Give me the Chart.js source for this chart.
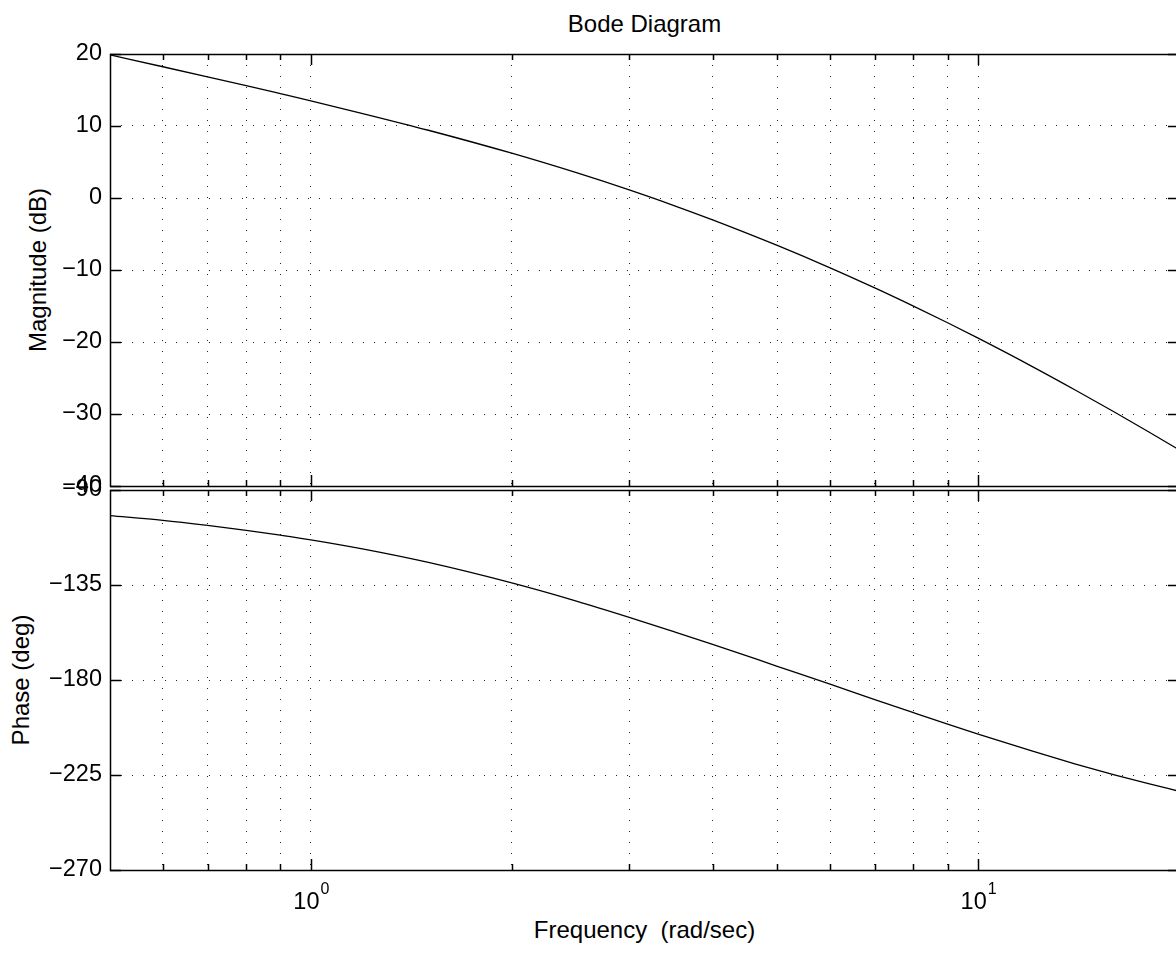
<!DOCTYPE html>
<html>
<head>
<meta charset="utf-8">
<script src="https://cdn.jsdelivr.net/npm/chart.js@4/dist/chart.umd.min.js"></script>
<style>
  html, body { margin: 0; padding: 0; background: #fff; overflow: hidden; }
  body { width: 1176px; height: 956px; position: relative; font-family: "Liberation Sans", Arial, sans-serif; }
  canvas { position: absolute; left: 0; }
  .lbl { position: absolute; font-size: 24px; line-height: 28px; color: #000; white-space: pre; }
</style>
</head>
<body>
<div class="lbl" style="left:0; width:1289px; top:10px; text-align:center;">Bode Diagram</div>
<div class="lbl" style="left:38px; top:270px; transform:translate(-50%,-50%) rotate(-90deg);">Magnitude (dB)</div>
<div class="lbl" style="left:21px; top:680px; transform:translate(-50%,-50%) rotate(-90deg);">Phase (deg)</div>
<div class="lbl" style="left:0; width:1289px; top:916px; text-align:center;">Frequency  (rad/sec)</div>
<canvas id="mag" width="1200" height="520" style="top:0"></canvas>
<canvas id="phase" width="1200" height="516" style="top:440px"></canvas>
<script>
// frequencies (rad/sec) and values
const freq = [0.5, 0.6, 0.7, 0.8, 0.9, 1, 1.2, 1.5, 2, 2.5, 3, 3.5, 4, 5, 6, 7, 8, 9, 10, 12, 14, 16, 18, 20];
const magDb = [19.87, 18.23, 16.83, 15.60, 14.49, 13.49, 11.70, 9.41, 6.22, 3.51, 1.12, -1.05, -3.04, -6.59, -9.70, -12.49, -15.02, -17.33, -19.47, -23.31, -26.70, -29.73, -32.46, -34.96];
const phaseDeg = [-102.1, -104.4, -106.8, -109.1, -111.4, -113.6, -118.0, -124.3, -134.0, -142.6, -150.3, -157.1, -163.1, -173.5, -182.0, -189.3, -195.5, -200.9, -205.6, -213.5, -219.8, -224.9, -229.1, -232.7];
const freqTicks = [0.6, 0.7, 0.8, 0.9, 1, 2, 3, 4, 5, 6, 7, 8, 9, 10, 20];
const decadeTicks = [1, 10];

const FONT = "'Liberation Sans', Arial, sans-serif";
const TICK_SIZE = 23.5;
const minus = v => (v < 0 ? '\u2212' + Math.abs(v) : String(v));

// matlab style box, inward ticks and 10^n labels
const matAxes = {
  id: 'matAxes',
  afterDraw(chart, args, opts) {
    const ctx = chart.ctx;
    const a = chart.chartArea;
    const xs = chart.scales.x, ys = chart.scales.y;
    ctx.save();
    ctx.strokeStyle = '#000';
    ctx.lineWidth = 1.5;
    ctx.beginPath();
    freqTicks.forEach(v => {
      const px = Math.round(xs.getPixelForValue(v)) + 0.5;
      const len = decadeTicks.includes(v) ? 11 : 6;
      ctx.moveTo(px, a.bottom); ctx.lineTo(px, a.bottom - len);
      ctx.moveTo(px, a.top); ctx.lineTo(px, a.top + len);
    });
    ys.ticks.forEach(t => {
      const py = Math.round(ys.getPixelForValue(t.value)) + 0.5;
      ctx.moveTo(a.left, py); ctx.lineTo(a.left + 11, py);
      ctx.moveTo(a.right, py); ctx.lineTo(a.right - 11, py);
    });
    ctx.stroke();
    ctx.strokeRect(Math.round(a.left) + 0.5, Math.round(a.top) + 0.5, a.right - a.left, a.bottom - a.top);
    if (opts.xLabels) {
      ctx.fillStyle = '#000';
      ctx.textBaseline = 'alphabetic';
      ctx.textAlign = 'left';
      decadeTicks.forEach(v => {
        const px = xs.getPixelForValue(v);
        const exp = String(Math.round(Math.log10(v)));
        ctx.font = TICK_SIZE + 'px ' + FONT;
        const w1 = ctx.measureText('10').width;
        ctx.font = '16px ' + FONT;
        const w2 = ctx.measureText(exp).width;
        const x0 = px - (w1 + w2) / 2;
        ctx.font = TICK_SIZE + 'px ' + FONT;
        ctx.fillText('10', x0, a.bottom + 39);
        ctx.font = '16px ' + FONT;
        ctx.fillText(exp, x0 + w1 + 1, a.bottom + 24);
      });
    }
    ctx.restore();
  }
};

function xScale() {
  return {
    type: 'logarithmic',
    min: 0.5,
    max: 20,
    afterBuildTicks: s => { s.ticks = freqTicks.map(v => ({ value: v })); },
    afterFit: s => { s.height = 0; },
    ticks: { display: false },
    grid: { color: '#222', lineWidth: 1, drawTicks: false },
    border: { display: false, dash: [1, 10] }
  };
}

function yScale(min, max, step) {
  return {
    min: min,
    max: max,
    afterFit: s => { s.width = 110; },
    ticks: {
      stepSize: step,
      padding: 8,
      color: '#000',
      font: { family: FONT, size: TICK_SIZE },
      callback: v => minus(v)
    },
    grid: { color: '#222', lineWidth: 1, drawTicks: false },
    border: { display: false, dash: [1, 10] }
  };
}

function makeChart(id, values, yOpts, pad, xLabels) {
  return new Chart(document.getElementById(id).getContext('2d'), {
    type: 'line',
    data: {
      datasets: [{
        data: freq.map((f, i) => ({ x: f, y: values[i] })),
        borderColor: '#000',
        borderWidth: 1.3,
        pointRadius: 0,
        fill: false,
        cubicInterpolationMode: 'monotone'
      }]
    },
    options: {
      responsive: false,
      animation: false,
      devicePixelRatio: 1,
      layout: { padding: pad },
      plugins: { legend: { display: false }, tooltip: { enabled: false }, matAxes: { xLabels: xLabels } },
      scales: { x: xScale(), y: yOpts }
    },
    plugins: [matAxes]
  });
}

makeChart('mag', magDb, yScale(-40, 20, 10), { left: 0, top: 54, right: 21, bottom: 34 }, false);
makeChart('phase', phaseDeg, yScale(-270, -90, 45), { left: 0, top: 50, right: 21, bottom: 86 }, true);
</script>
</body>
</html>
